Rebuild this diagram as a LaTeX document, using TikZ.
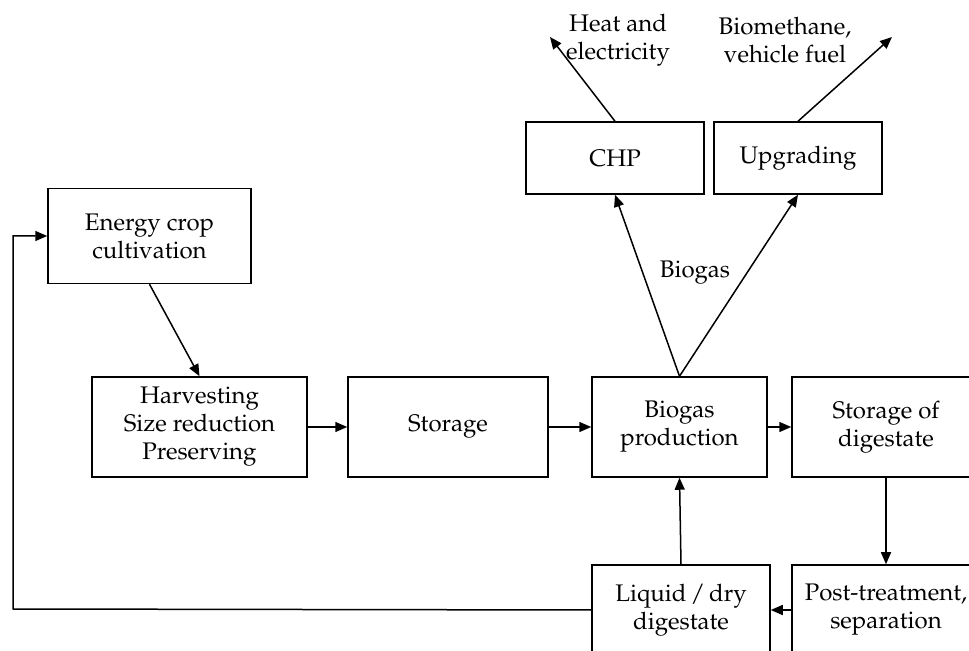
\documentclass[tikz,border=0pt]{standalone}
\usepackage[T1]{fontenc}
\usepackage{mathpazo}
\usepackage{tikz}
\usetikzlibrary{arrows.meta}

\begin{document}
\begin{tikzpicture}[x = 0.5pt, y = -0.5pt, line width = 0.75pt,
        every node/.style = {align = center, font = \fontsize{12}{14}\selectfont},
        block/.style = {draw, line width = 0.75pt, minimum height = 50pt, inner sep = 2pt},
        arr/.style = {-{Triangle[length = 6pt, width = 5pt]}}]
            \useasboundingbox (0,0) rectangle (969,651);
            \clip (0,0) rectangle (969,651);
            % main line
            \node[block, minimum width = 101.5pt, minimum height = 47.5pt] (crop) at (149.5,236) {Energy crop\\cultivation};
            \node[block, minimum width = 107.5pt] (harv) at (199.5,427) {Harvesting\\Size reduction\\Preserving};
            \node[block, minimum width = 100pt] (stor) at (448,427) {Storage};
            \node[block, minimum width = 87.5pt] (prod) at (679.5,427) {Biogas\\production};
            \node[block, minimum width = 94pt] (dig) at (886,427) {Storage of\\digestate};
            % gas use
            \node[block, minimum width = 89pt, minimum height = 36pt] (chp) at (615,158) {CHP};
            \node[block, minimum width = 84pt, minimum height = 36pt] (upg) at (798,158) {Upgrading};
            \node (heat) at (618,40) {Heat and\\electricity};
            \node (fuel) at (785,40) {Biomethane,\\vehicle fuel};
            \node (gas) at (695,273) {Biogas};
            % digestate
            \node[block, minimum width = 94pt, minimum height = 45pt] (post) at (886,610) {Post-treatment,\\separation};
            \node[block, minimum width = 89pt, minimum height = 45pt] (liq) at (681,610) {Liquid\,/\,dry\\digestate};
            \coordinate (heatend) at (550,37);
            \coordinate (fuelend) at (892,37);
            \coordinate (loop) at (13,609);
            \draw[arr] (crop.south) -- (harv.north);
            \draw[arr] (harv.east) -- (stor.west);
            \draw[arr] (stor.east) -- (prod.west);
            \draw[arr] (prod.east) -- (dig.west);
            \draw[arr] (prod.north) -- (chp.south);
            \draw[arr] (prod.north) -- (upg.south);
            \draw[arr] (chp.north) -- (heatend);
            \draw[arr] (upg.north) -- (fuelend);
            \draw[arr] (dig.south) -- (post.north);
            \draw[arr] (post.west) -- (liq.east);
            \draw[arr] (liq.north) -- (prod.south);
            \draw[arr] (liq.west) -- (loop) |- (crop.west);
\end{tikzpicture}
\end{document}
